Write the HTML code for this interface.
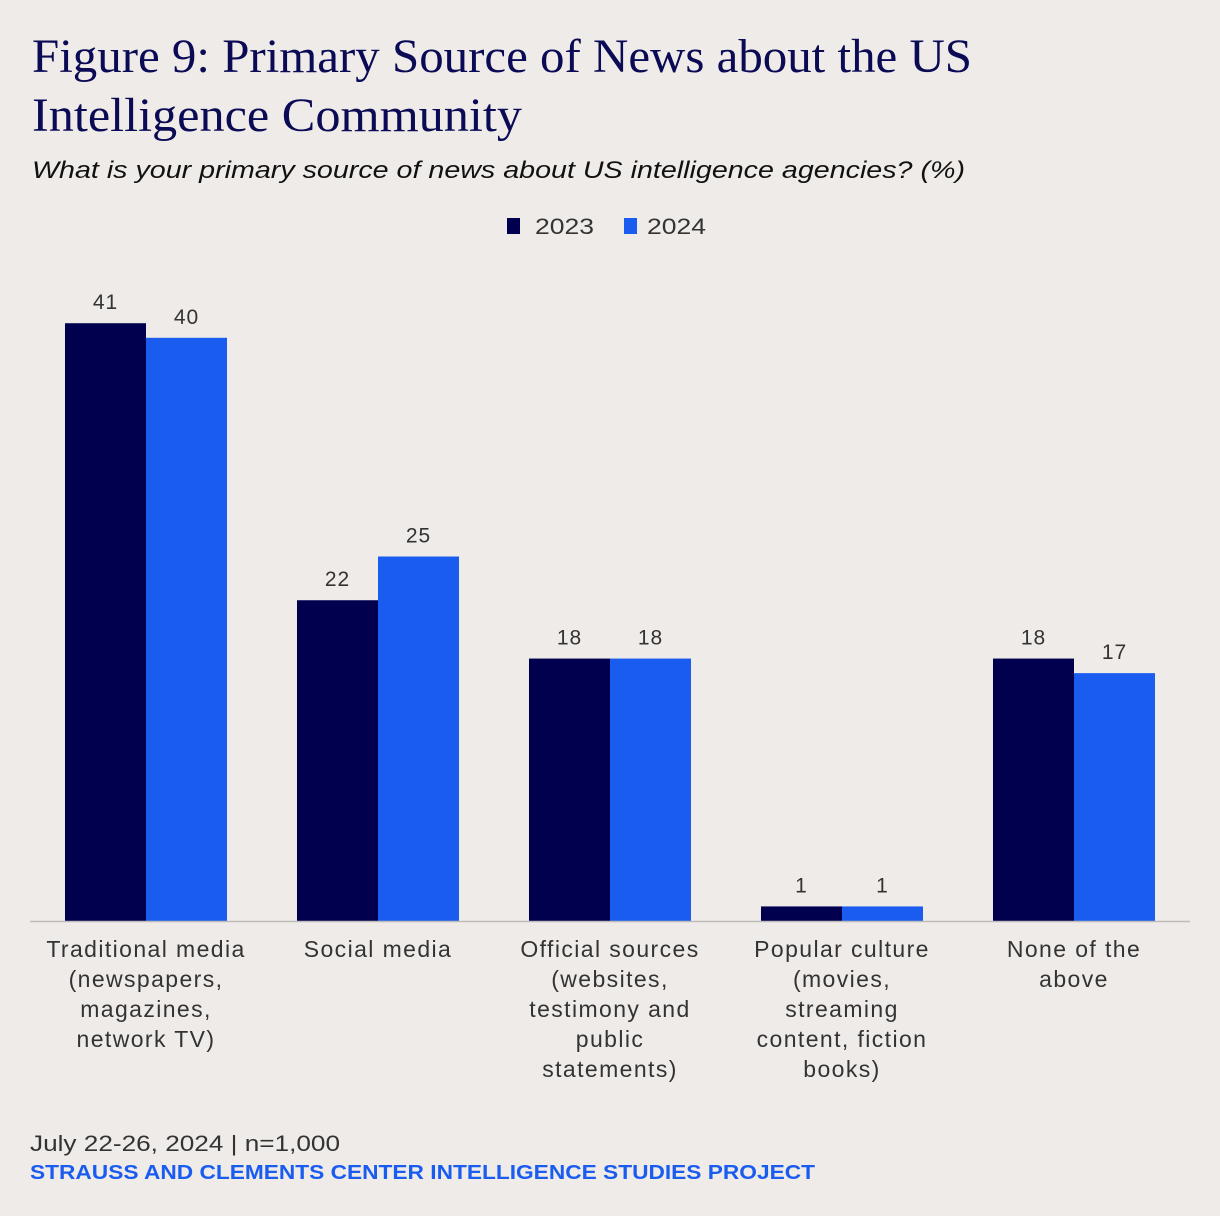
<!DOCTYPE html>
<html><head><meta charset="utf-8"><style>
html,body{margin:0;padding:0;background:#efebe8}
svg{display:block}
</style></head><body>
<svg id="chart" width="1220" height="1216" viewBox="0 0 1220 1216" font-family="Liberation Sans, sans-serif">
<rect width="1220" height="1216" fill="#efebe8"/>
<text x="32" y="72" style="font-family:'Liberation Serif',serif" font-size="48" fill="#0a0a55" textLength="940" lengthAdjust="spacingAndGlyphs">Figure 9: Primary Source of News about the US</text>
<text x="32" y="131" style="font-family:'Liberation Serif',serif" font-size="48" fill="#0a0a55" textLength="490" lengthAdjust="spacingAndGlyphs">Intelligence Community</text>
<text x="32" y="178" font-size="24" font-style="italic" fill="#111" textLength="933" lengthAdjust="spacingAndGlyphs">What is your primary source of news about US intelligence agencies? (%)</text>
<g>
<rect x="507" y="218" width="13" height="16" fill="#00004f"/>
<text x="535" y="234" font-size="22" fill="#333" textLength="59" lengthAdjust="spacingAndGlyphs">2023</text>
<rect x="624" y="218" width="13" height="16" fill="#1a5cf0"/>
<text x="647" y="234" font-size="22" fill="#333" textLength="59" lengthAdjust="spacingAndGlyphs">2024</text>
</g>
<g id="bars"></g>
<line x1="30" y1="921.5" x2="1190" y2="921.5" stroke="#bbb" stroke-width="1.5"/>
<text x="30" y="1151" font-size="22" fill="#333" textLength="310" lengthAdjust="spacingAndGlyphs">July 22-26, 2024 | n=1,000</text>
<text x="30" y="1179" font-size="20" font-weight="bold" fill="#1a5cf0" textLength="785" lengthAdjust="spacingAndGlyphs">STRAUSS AND CLEMENTS CENTER INTELLIGENCE STUDIES PROJECT</text>
</svg>
<script>
const categories = [
  ["Traditional media","(newspapers,","magazines,","network TV)"],
  ["Social media"],
  ["Official sources","(websites,","testimony and","public","statements)"],
  ["Popular culture","(movies,","streaming","content, fiction","books)"],
  ["None of the","above"]
];
const values2023 = [41, 22, 18, 1, 18];
const values2024 = [40, 25, 18, 1, 17];
const seriesColors = ["#00004f", "#1a5cf0"];

const NS = "http://www.w3.org/2000/svg";
const baseY = 921, pxPerUnit = 14.58, firstCenter = 146, step = 232, barW = 81;
const y = v => baseY - v * pxPerUnit;
const xc = i => firstCenter + i * step;
const g = document.getElementById("bars");
function mk(tag, attrs){const e=document.createElementNS(NS,tag);for(const k in attrs)e.setAttribute(k,attrs[k]);return e;}
categories.forEach((cat, i) => {
  [values2023, values2024].forEach((vals, s) => {
    const v = vals[i];
    const x = xc(i) - barW + s * barW;
    const r = mk("rect", {x: x, y: y(v), width: barW, height: baseY - y(v), fill: seriesColors[s]});
    
    
    g.appendChild(r);
    const t = mk("text", {x: x + barW / 2, y: y(v) - 14, "text-anchor": "middle", "font-size": "21", "letter-spacing": "1", fill: "#333"});
    t.textContent = v;
    
    
    g.appendChild(t);
  });
  cat.forEach((line, j) => {
    const t = mk("text", {x: xc(i), y: 957 + j * 30, "text-anchor": "middle", "font-size": "23", "letter-spacing": "1.4", fill: "#333"});
    t.textContent = line;
    
    
    g.appendChild(t);
  });
});
</script>
</body></html>
